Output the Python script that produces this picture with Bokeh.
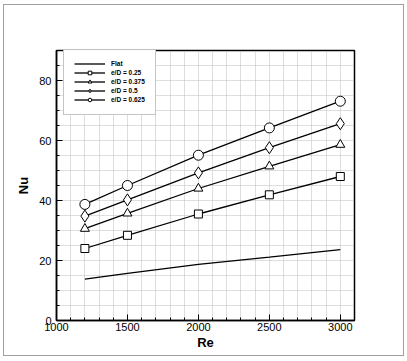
from bokeh.plotting import figure
from bokeh.models import Range1d, FixedTicker, Legend, LegendItem
from bokeh.embed import file_html
from bokeh.resources import INLINE

re_vals = [1200, 1500, 2000, 2500, 3000]
nu_flat = [13.8, 15.7, 18.7, 21.1, 23.6]
nu_025 = [24.0, 28.4, 35.5, 41.9, 48.0]
nu_0375 = [30.6, 35.7, 44.0, 51.4, 58.6]
nu_05 = [34.8, 40.2, 49.2, 57.6, 65.6]
nu_0625 = [38.7, 45.0, 55.1, 64.2, 73.1]
labels = ["Flat", "e/D = 0.25", "e/D = 0.375", "e/D = 0.5", "e/D = 0.625"]
x_ticks = [1000, 1500, 2000, 2500, 3000]
x_minor = list(range(1000, 3101, 100))
y_ticks = [0, 20, 40, 60, 80]
y_minor = list(range(0, 91, 5))

FONT = "Liberation Sans"

p = figure(width=401, height=352, x_range=Range1d(1000, 3100), y_range=Range1d(0, 90),
           output_backend="svg", toolbar_location=None,
           min_border_left=52, min_border_right=51, min_border_top=45, min_border_bottom=37,
           margin=(4, 0, 0, 3),
           styles={"border": "1px solid #a0a0a0", "box-sizing": "border-box"})

p.background_fill_color = "white"
p.border_fill_color = "white"
p.outline_line_color = "black"
p.outline_line_width = 1.5

for ax, ticks, minor in ((p.xaxis[0], x_ticks, x_minor), (p.yaxis[0], y_ticks, y_minor)):
    ax.ticker = FixedTicker(ticks=ticks, minor_ticks=minor)
    ax.axis_line_color = "black"
    ax.axis_line_width = 1.5
    ax.major_tick_in = 6
    ax.major_tick_out = 0
    ax.minor_tick_in = 3
    ax.minor_tick_out = 0
    ax.major_tick_line_color = "black"
    ax.minor_tick_line_color = "black"
    ax.major_label_text_font = FONT
    ax.major_label_text_font_size = "11px"
    ax.major_label_text_color = "black"
    ax.axis_label_text_font = FONT
    ax.axis_label_text_font_size = "13px"
    ax.axis_label_text_font_style = "bold"
    ax.axis_label_text_color = "black"

p.xaxis.axis_label = "Re"
p.yaxis.axis_label = "Nu"
p.xaxis.major_label_standoff = 2
p.yaxis.major_label_standoff = 5
p.xaxis.axis_label_standoff = 1
p.yaxis.axis_label_standoff = 5

p.xgrid.ticker = FixedTicker(ticks=x_minor)
p.ygrid.ticker = FixedTicker(ticks=y_minor)
for g in (p.xgrid[0], p.ygrid[0]):
    g.grid_line_color = "#bdbdbd"
    g.grid_line_dash = "1 1"
    g.grid_line_width = 1

items = []
r = p.line(re_vals, nu_flat, line_color="black", line_width=1.3)
items.append(LegendItem(label=labels[0], renderers=[r]))

series = [
    (nu_025, "square", 8),
    (nu_0375, "triangle", 9),
    (nu_05, "diamond", 12),
    (nu_0625, "circle", 10),
]
for (vals, marker, size), lab in zip(series, labels[1:]):
    l = p.line(re_vals, vals, line_color="black", line_width=1.3)
    s = p.scatter(re_vals, vals, marker=marker, size=size, fill_color="white",
                  line_color="black", line_width=1)
    items.append(LegendItem(label=lab, renderers=[l, s]))

legend = Legend(items=items, location=(7, 205), orientation="vertical")
legend.label_text_font = FONT
legend.label_text_font_size = "6.5px"
legend.label_text_font_style = "bold"
legend.label_text_color = "black"
legend.glyph_width = 31
legend.glyph_height = 9
legend.label_height = 9
legend.label_standoff = 6
legend.spacing = 0
legend.padding = 10
legend.margin = 0
legend.border_line_color = "#8a8a8a"
legend.border_line_width = 1
legend.background_fill_color = "white"
legend.background_fill_alpha = 1.0
p.add_layout(legend)

open("out.html", "w").write(file_html(p, INLINE))
